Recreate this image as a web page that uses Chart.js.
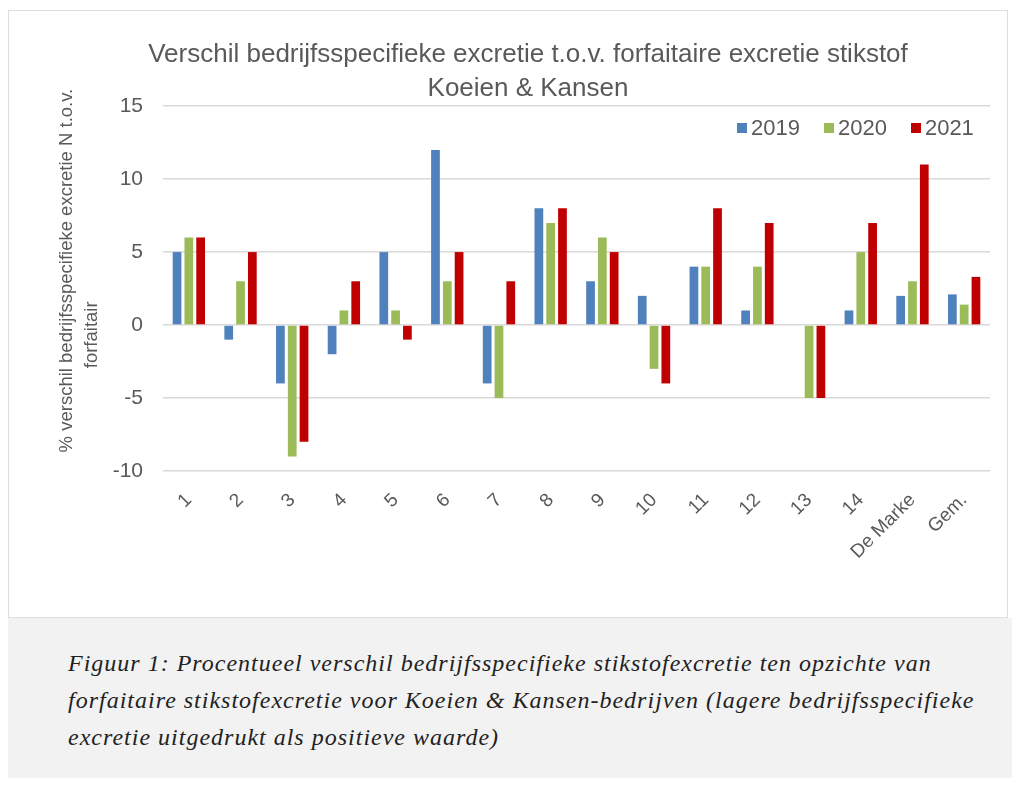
<!DOCTYPE html>
<html>
<head>
<meta charset="utf-8">
<script src="https://cdn.jsdelivr.net/npm/chart.js@4"></script>
<style>
  body { margin: 0; background: #fff; }
  #box {
    position: absolute; left: 8px; top: 10px; width: 998px; height: 606px;
    border: 1px solid #dedede; background: #fff;
  }
  #box canvas { position: absolute; left: 0; top: 0; }
  #legend {
    position: absolute; left: 728px; top: 104px; height: 28px;
    font-family: "Liberation Sans", sans-serif; font-size: 22px; color: #595959;
    white-space: nowrap;
  }
  #legend span.item { display: inline-block; margin-right: 24px; }
  #legend span.sw {
    display: inline-block; width: 10px; height: 10px; margin-right: 4px;
    vertical-align: 2px;
  }
  #caption {
    position: absolute; left: 8px; top: 618px; width: 1004px; height: 160px;
    background: #f2f2f2;
  }
  #caption p {
    margin: 0; position: absolute; left: 60px; top: 27px;
    font-family: "Liberation Serif", serif; font-style: italic;
    font-size: 24px; letter-spacing: 1px; line-height: 37px; color: #222;
    white-space: nowrap;
  }
</style>
</head>
<body>
<div id="box"><canvas id="myChart" width="998" height="606"></canvas><div id="legend"></div></div>
<div id="caption"><p>Figuur 1: Procentueel verschil bedrijfsspecifieke stikstofexcretie ten opzichte van<br>forfaitaire stikstofexcretie voor Koeien &amp; Kansen-bedrijven (lagere bedrijfsspecifieke<br>excretie uitgedrukt als positieve waarde)</p></div>

<script>
"use strict";

const categories = ["1", "2", "3", "4", "5", "6", "7", "8", "9", "10", "11", "12", "13", "14", "De Marke", "Gem."];
const years = ["2019", "2020", "2021"];
const values2019 = [5, -1, -4, -2, 5, 12, -4, 8, 3, 2, 4, 1, 0, 1, 2, 2.1];
const values2020 = [6, 3, -9, 1, 1, 3, -5, 7, 6, -3, 4, 4, -5, 5, 3, 1.4];
const values2021 = [6, 5, -8, 3, -1, 5, 3, 8, 5, -4, 8, 7, -5, 7, 11, 3.3];
const yTicks = [-10, -5, 0, 5, 10, 15];

const colors = ["#4f81bd", "#9bbb59", "#c00000"];
const grey = "#595959";
const font = "Liberation Sans";

// legend as html, placed inside the plot area like the excel one
const legendEl = document.getElementById("legend");
years.forEach((year, i) => {
  const item = document.createElement("span");
  item.className = "item";
  item.innerHTML = '<span class="sw" style="background:' + colors[i] + '"></span>' + year;
  legendEl.appendChild(item);
});

const ctx = document.getElementById("myChart");
const myChart = new Chart(ctx, {
  type: "bar",
  data: {
    labels: categories,
    datasets: [values2019, values2020, values2021].map((vals, i) => ({
      label: years[i],
      data: vals,
      backgroundColor: colors[i],
      borderWidth: 0,
      categoryPercentage: 0.685,
      barPercentage: 0.74,
    })),
  },
  options: {
    responsive: false,
    animation: false,
    layout: {
      padding: { left: 57, right: 17, top: 0, bottom: 0 },
    },
    plugins: {
      title: {
        display: true,
        text: [
          "Verschil bedrijfsspecifieke excretie t.o.v. forfaitaire excretie stikstof",
          "Koeien & Kansen",
        ],
        color: grey,
        font: { family: font, size: 26, weight: "normal", lineHeight: 1.31 },
        padding: { top: 27, bottom: 0 },
      },
      legend: { display: false },
      tooltip: { enabled: false },
    },
    scales: {
      x: {
        grid: { display: false },
        border: { display: false },
        ticks: {
          color: grey,
          font: { family: font, size: 19 },
          maxRotation: 45,
          minRotation: 45,
          padding: 10,
        },
        afterFit: (scale) => {
          scale.height = 146;
        },
      },
      y: {
        min: -10,
        max: 15,
        afterBuildTicks: (scale) => {
          scale.ticks = yTicks.map((v) => ({ value: v }));
        },
        grid: { color: "#d9d9d9", lineWidth: 1.5, drawTicks: false },
        border: { display: false },
        ticks: {
          color: grey,
          font: { family: font, size: 21 },
          padding: 20,
        },
        title: {
          display: true,
          // spaces nudge the two lines apart along the axis, like in the excel original
          text: ["       % verschil bedrijfsspecifieke excretie N t.o.v.", "forfaitair                  "],
          color: grey,
          font: { family: font, size: 18.5, lineHeight: 1.35 },
          padding: { top: -12, bottom: 0 },
        },
        afterFit: (scale) => {
          scale.width = 97;
        },
      },
    },
  },
});
</script>
</body>
</html>
